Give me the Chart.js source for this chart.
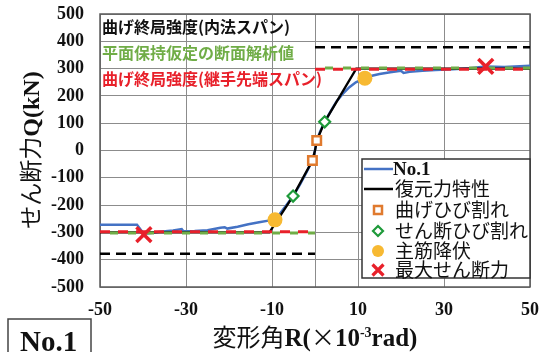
<!DOCTYPE html>
<html>
<head>
<meta charset="utf-8">
<script src="https://cdn.jsdelivr.net/npm/chart.js@4/dist/chart.umd.min.js"></script>
<style>
  html, body { margin: 0; padding: 0; background: #fff; }
  #wrap { position: relative; width: 549px; height: 352px; }
</style>
</head>
<body>
<div id="wrap"><canvas id="c" width="549" height="352"></canvas></div>
<script>
// Drift angle R (x10^-3 rad) and shear force Q (kN) of specimen No.1
const rTest = [-50, -41.4, -39.8, -36, -33, -31, -30.6, -28, -25, -22, -21, -20.4, -18, -15.5, -13, -10.5, -9.3, -8, -6.5, -5.1, -3.5, -2, -0.6, 0, 0.4, 1.2, 2.25, 3.5, 5, 6.5, 8, 9.5, 11.6, 13, 15, 17.5, 20, 20.6, 22, 25, 28, 32, 36, 39.7, 44, 50];
const qTest = [-272, -272, -306, -298, -293, -288, -296, -295, -292, -283, -281, -286, -279, -270, -263, -256, -254, -228, -197, -167, -125, -80, -37, 0, 37, 70, 105, 140, 180, 208, 232, 250, 265, 273, 280, 287, 292, 284, 288, 292, 295, 298, 301, 308, 306, 310];

// Restoring force model (backbone)
const rModel = [-50, -10.6, -5.1, -0.6, 0, 0.45, 2.25, 9.6, 50];
const qModel = [-300, -300, -167, -37, 0, 37, 105, 300, 300];

// Event points
const flexCrackR = [0.4, -0.6];
const flexCrackQ = [37, -37];
const shearCrackR = [2.25, -5.1];
const shearCrackQ = [105, -167];
const yieldR = [11.6, -9.3];
const yieldQ = [265, -254];
const maxShearR = [39.7, -39.8];
const maxShearQ = [308, -308];

// Calculated strengths (kN)
const qFlexInner = 378;   // 曲げ終局強度(内法スパン)
const qSection = 302;     // 平面保持仮定の断面解析値
const qFlexJoint = 298;   // 曲げ終局強度(継手先端スパン)

const xTicks = [-50, -30, -10, 0, 10, 30, 50];

const toPts = (xs, ys) => xs.map((x, i) => ({ x: x, y: ys[i] }));
const strengthLine = v => [{ x: -50, y: -v }, { x: 0, y: -v }, { x: 0, y: null }, { x: 0, y: v }, { x: 50, y: v }];

const BLUE = '#4472C4', ORANGE = '#E07A2E', GREEN = '#1E9A3A', GOLD = '#F7B932', RED = '#E8202A', LGREEN = '#70AD47';
const SERIF = '"Liberation Serif", "Times New Roman", serif';
const JP = '"Noto Sans CJK JP", sans-serif';

function drawRuns(ctx, runs, cx, cy) {
  let total = 0;
  runs.forEach(r => { ctx.font = r.f; r.w = ctx.measureText(r.t).width; total += r.w; });
  let x = cx - total / 2;
  ctx.textBaseline = 'alphabetic';
  ctx.textAlign = 'left';
  runs.forEach(r => { ctx.font = r.f; ctx.fillText(r.t, x, cy + (r.dy || 0)); x += r.w; });
}

function marker(ctx, type, x, y) {
  ctx.save();
  ctx.beginPath();
  if (type === 'rect') {
    ctx.strokeStyle = ORANGE; ctx.lineWidth = 2.5; ctx.fillStyle = '#fff';
    ctx.rect(x - 4, y - 4, 8, 8); ctx.fill(); ctx.stroke();
  } else if (type === 'diamond') {
    ctx.strokeStyle = GREEN; ctx.lineWidth = 2.2; ctx.fillStyle = '#fff';
    ctx.moveTo(x, y - 5); ctx.lineTo(x + 5, y); ctx.lineTo(x, y + 5); ctx.lineTo(x - 5, y); ctx.closePath();
    ctx.fill(); ctx.stroke();
  } else if (type === 'circle') {
    ctx.fillStyle = GOLD; ctx.arc(x, y, 6, 0, Math.PI * 2); ctx.fill();
  } else if (type === 'x') {
    ctx.strokeStyle = RED; ctx.lineWidth = 3.2;
    ctx.moveTo(x - 5.5, y - 5.5); ctx.lineTo(x + 5.5, y + 5.5);
    ctx.moveTo(x + 5.5, y - 5.5); ctx.lineTo(x - 5.5, y + 5.5); ctx.stroke();
  }
  ctx.restore();
}

const decor = {
  id: 'decor',
  beforeDatasetsDraw(chart) {
    const { ctx, chartArea: a } = chart;
    ctx.save();
    ctx.strokeStyle = '#5a5a5a';
    ctx.lineWidth = 1.5;
    ctx.strokeRect(a.left, a.top, a.right - a.left, a.bottom - a.top);
    ctx.restore();
  },
  afterDatasetsDraw(chart) {
    const { ctx, chartArea: a } = chart;
    ctx.save();
    // strength notes
    ctx.textBaseline = 'middle';
    ctx.textAlign = 'left';
    ctx.font = 'bold 16px ' + JP;
    ctx.fillStyle = '#111';
    ctx.fillText('曲げ終局強度(内法スパン)', 102, 27);
    ctx.fillStyle = LGREEN;
    ctx.fillText('平面保持仮定の断面解析値', 102, 53);
    ctx.fillStyle = RED;
    ctx.fillText('曲げ終局強度(継手先端スパン)', 102, 79);

    // legend
    const lx = 362, ly = 159, lw = a.right - lx, lh = 119;
    ctx.fillStyle = '#fff';
    ctx.fillRect(lx, ly, lw, lh);
    ctx.strokeStyle = '#333';
    ctx.lineWidth = 1.5;
    ctx.strokeRect(lx, ly, lw, lh);
    const rows = [169, 189, 210, 231, 251, 270];
    ctx.lineWidth = 2.5;
    ctx.strokeStyle = BLUE;
    ctx.beginPath(); ctx.moveTo(364, rows[0]); ctx.lineTo(393, rows[0]); ctx.stroke();
    ctx.strokeStyle = '#000';
    ctx.beginPath(); ctx.moveTo(364, rows[1]); ctx.lineTo(393, rows[1]); ctx.stroke();
    marker(ctx, 'rect', 378, rows[2]);
    marker(ctx, 'diamond', 378, rows[3]);
    marker(ctx, 'circle', 378, rows[4]);
    marker(ctx, 'x', 378, rows[5]);
    ctx.fillStyle = '#111';
    ctx.textBaseline = 'middle';
    ctx.font = 'bold 19px ' + SERIF;
    ctx.fillText('No.1', 393, rows[0] + 1);
    ctx.font = '19px ' + JP;
    ['復元力特性', '曲げひび割れ', 'せん断ひび割れ', '主筋降伏', '最大せん断力'].forEach((t, i) => {
      ctx.fillText(t, 395, rows[i + 1]);
    });

    // axis titles
    ctx.fillStyle = '#111';
    drawRuns(ctx, [
      { t: '変形角', f: '24px ' + JP },
      { t: 'R(', f: 'bold 25px ' + SERIF },
      { t: '×', f: '24px ' + JP },
      { t: '10', f: 'bold 25px ' + SERIF },
      { t: '-3', f: 'bold 14px ' + SERIF, dy: -9 },
      { t: 'rad)', f: 'bold 25px ' + SERIF }
    ], (a.left + a.right) / 2, 346);

    ctx.save();
    ctx.translate(30, 150);
    ctx.rotate(-Math.PI / 2);
    drawRuns(ctx, [
      { t: 'せん断力', f: '23px ' + JP },
      { t: 'Q(kN)', f: 'bold 24px ' + SERIF }
    ], 0, 9);
    ctx.restore();

    // specimen tag
    ctx.strokeStyle = '#444';
    ctx.lineWidth = 1.5;
    ctx.strokeRect(8, 319, 83, 40);
    ctx.fillStyle = '#111';
    ctx.font = 'bold 29px ' + SERIF;
    ctx.textBaseline = 'alphabetic';
    ctx.fillText('No.1', 20, 351);
    ctx.restore();
  }
};

const tickFont = { family: SERIF, size: 18, weight: 'bold' };

new Chart(document.getElementById('c'), {
  type: 'scatter',
  data: {
    datasets: [
      { label: '最大せん断力', data: toPts(maxShearR, maxShearQ), pointStyle: 'crossRot', radius: 10.5, borderColor: RED, borderWidth: 3.5, order: 1 },
      { label: '主筋降伏', data: toPts(yieldR, yieldQ), pointStyle: 'circle', radius: 7.5, backgroundColor: GOLD, borderColor: GOLD, borderWidth: 0, order: 2 },
      { label: 'せん断ひび割れ', data: toPts(shearCrackR, shearCrackQ), pointStyle: 'rectRot', radius: 5.5, backgroundColor: '#fff', borderColor: GREEN, borderWidth: 2.2, order: 3 },
      { label: '曲げひび割れ', data: toPts(flexCrackR, flexCrackQ), pointStyle: 'rect', radius: 6, backgroundColor: '#fff', borderColor: ORANGE, borderWidth: 2.5, order: 4 },
      { label: 'joint', data: strengthLine(qFlexJoint), showLine: true, borderColor: RED, borderWidth: 3, borderDash: [10, 8], pointRadius: 0, spanGaps: false, order: 5 },
      { label: 'section', data: strengthLine(qSection), showLine: true, borderColor: LGREEN, borderWidth: 3, borderDash: [8, 10], borderDashOffset: 8, pointRadius: 0, spanGaps: false, order: 6 },
      { label: 'inner', data: strengthLine(qFlexInner), showLine: true, borderColor: '#000', borderWidth: 2.5, borderDash: [10, 6], pointRadius: 0, spanGaps: false, order: 7 },
      { label: '復元力特性', data: toPts(rModel, qModel), showLine: true, borderColor: '#000', borderWidth: 2.3, pointRadius: 0, tension: 0, order: 8 },
      { label: 'No.1', data: toPts(rTest, qTest), showLine: true, borderColor: BLUE, borderWidth: 2.5, pointRadius: 0, tension: 0, order: 9 }
    ]
  },
  options: {
    responsive: false,
    animation: false,
    events: [],
    layout: { padding: { top: 11, right: 19, left: 0, bottom: 0 } },
    plugins: { legend: { display: false }, tooltip: { enabled: false } },
    scales: {
      x: {
        type: 'linear', min: -50, max: 50,
        afterBuildTicks: s => { s.ticks = xTicks.map(v => ({ value: v })); },
        afterFit: s => { s.height = 65; s.paddingLeft = 0; s.paddingRight = 0; },
        ticks: { font: tickFont, color: '#111', padding: 13, maxRotation: 0, autoSkip: false, callback: v => (v === 0 ? '' : v) },
        grid: { color: '#8c8c8c', lineWidth: 1, drawTicks: false },
        border: { display: false }
      },
      y: {
        min: -500, max: 500,
        afterFit: s => { s.width = 100; s.paddingTop = 0; s.paddingBottom = 0; },
        ticks: { stepSize: 100, font: tickFont, color: '#111', padding: 16 },
        grid: { color: '#8c8c8c', lineWidth: 1, drawTicks: false },
        border: { display: false }
      }
    }
  },
  plugins: [decor]
});
</script>
</body>
</html>
